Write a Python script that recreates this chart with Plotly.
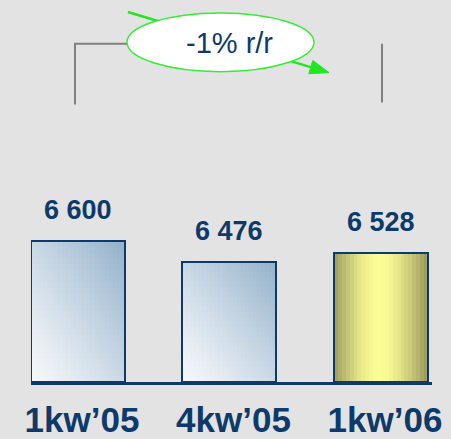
import math
import plotly.graph_objects as go

# ---- data ----
categories = ["1kw’05", "4kw’05", "1kw’06"]
values = [6600, 6476, 6528]
change_label = "-1% r/r"

# ---- layout constants ----
W, H = 451, 439
ML, MR, MT, MB = 31, 19, 0, 55
PW = W - ML - MR
PH = H - MT - MB
Y_MIN, Y_MAX = 5765, 8024
X_MIN, X_MAX = -0.31, 2.337
BAR_W = 0.62

NAVY = "#0d3a6b"
BG = "#e3e3e3"
FONT = "Arial, 'Liberation Sans', sans-serif"


def hex2rgb(h):
    h = h.lstrip("#")
    return tuple(int(h[i:i + 2], 16) for i in (0, 2, 4))


def lerp(c1, c2, t):
    a, b = hex2rgb(c1), hex2rgb(c2)
    return "rgb(%d,%d,%d)" % tuple(round(a[k] + (b[k] - a[k]) * t) for k in range(3))


BLUE_LIGHT, BLUE_DARK = "#f6f8fa", "#93b1cb"
OLIVE_L, OLIVE_R, YELLOW = "#9b9b5e", "#96965a", "#fdfd97"

# gradient cells built from the values
cx, cbase, ch, cw, coff, ccol = [], [], [], [], [], []
for i, (cat, v) in enumerate(zip(categories, values)):
    nx = 24
    ny = 24 if i < 2 else 1
    full = v - Y_MIN
    for a in range(nx):
        u = (a + 0.5) / nx
        step_w = BAR_W / nx
        for b in range(ny):
            w_ = (b + 0.5) / ny
            if i < 2:
                col = lerp(BLUE_LIGHT, BLUE_DARK, ((u + w_) / 2) ** 1.15)
            else:
                peak = 0.48
                d = (peak - u) / peak if u < peak else (u - peak) / (1 - peak)
                t = 1 - d ** 1.6
                edge = OLIVE_L if u < peak else OLIVE_R
                col = lerp(edge, YELLOW, t)
            step_h = full / ny
            cx.append(cat)
            cbase.append(Y_MIN + b * step_h)
            ch.append(min(step_h * 1.3, full - b * step_h))
            coff.append(-BAR_W / 2 + a * step_w)
            cw.append(min(step_w * 1.3, BAR_W - a * step_w))
            ccol.append(col)

fig = go.Figure()
fig.add_trace(go.Bar(
    x=cx, y=ch, base=cbase, width=cw, offset=coff,
    marker=dict(color=ccol, line=dict(width=0)),
    hoverinfo="skip", showlegend=False,
))
fig.add_trace(go.Bar(
    x=categories, y=[v - Y_MIN for v in values], base=Y_MIN, width=BAR_W,
    marker=dict(color="rgba(0,0,0,0)", line=dict(color=NAVY, width=2)),
    showlegend=False,
))

for cat, v in zip(categories, values):
    fig.add_annotation(
        x=cat, y=v, xref="x", yref="y", text=f"{v:,}".replace(",", " "),
        showarrow=False, yanchor="bottom", yshift=14,
        font=dict(family=FONT, size=27, color=NAVY, weight="bold"),
    )


def px(x):
    return (x - ML) / PW


def py(y):
    return 1 - (y - MT) / PH


GRAY = "#808080"
GREEN = "#22e622"
shapes = [
    dict(type="path", xref="paper", yref="paper",
         path=f"M {px(75)},{py(105)} L {px(75)},{py(44)} L {px(130)},{py(44)}",
         line=dict(color=GRAY, width=2)),
    dict(type="line", xref="paper", yref="paper",
         x0=px(382), y0=py(44), x1=px(382), y1=py(103),
         line=dict(color=GRAY, width=2)),
    dict(type="line", xref="paper", yref="paper",
         x0=px(128), y0=py(12), x1=px(318), y1=py(69.7),
         line=dict(color=GREEN, width=2.5)),
    dict(type="circle", xref="paper", yref="paper",
         x0=px(127), x1=px(314), y0=py(72), y1=py(13),
         fillcolor="white", line=dict(color="#33ee33", width=1.5)),
]
# arrowhead
tx, ty = 329, 73
ux, uy = 201, 61
ln = math.hypot(ux, uy)
ux, uy = ux / ln, uy / ln
nx_, ny_ = -uy, ux
bx, by = tx - 19 * ux, ty - 19 * uy
p1 = (bx + 7 * nx_, by + 7 * ny_)
p2 = (bx - 7 * nx_, by - 7 * ny_)
shapes.append(dict(
    type="path", xref="paper", yref="paper",
    path=f"M {px(tx)},{py(ty)} L {px(p1[0])},{py(p1[1])} L {px(p2[0])},{py(p2[1])} Z",
    fillcolor=GREEN, line=dict(color=GREEN, width=1)))

fig.add_annotation(
    x=px(229), y=py(43), xref="paper", yref="paper", text=change_label,
    showarrow=False, xanchor="center", yanchor="middle",
    font=dict(family=FONT, size=29, color=NAVY),
)

fig.update_layout(
    width=W, height=H,
    margin=dict(l=ML, r=MR, t=MT, b=MB, pad=0),
    paper_bgcolor=BG, plot_bgcolor=BG,
    barmode="overlay", bargap=0,
    shapes=shapes,
    xaxis=dict(type="category", range=[X_MIN, X_MAX], showline=True,
               linecolor=NAVY, linewidth=3, ticks="", showgrid=False,
               zeroline=False, fixedrange=True, ticklabelstandoff=5,
               ticklabelshift=4,
               tickfont=dict(family=FONT, size=35, color=NAVY, weight="bold")),
    yaxis=dict(range=[Y_MIN, Y_MAX], visible=False, showgrid=False,
               zeroline=False, fixedrange=True),
)

fig.write_html(
    "out.html",
    config={"displayModeBar": False},
    post_script="document.body.style.margin='0px';document.body.style.overflow='hidden';",
)
